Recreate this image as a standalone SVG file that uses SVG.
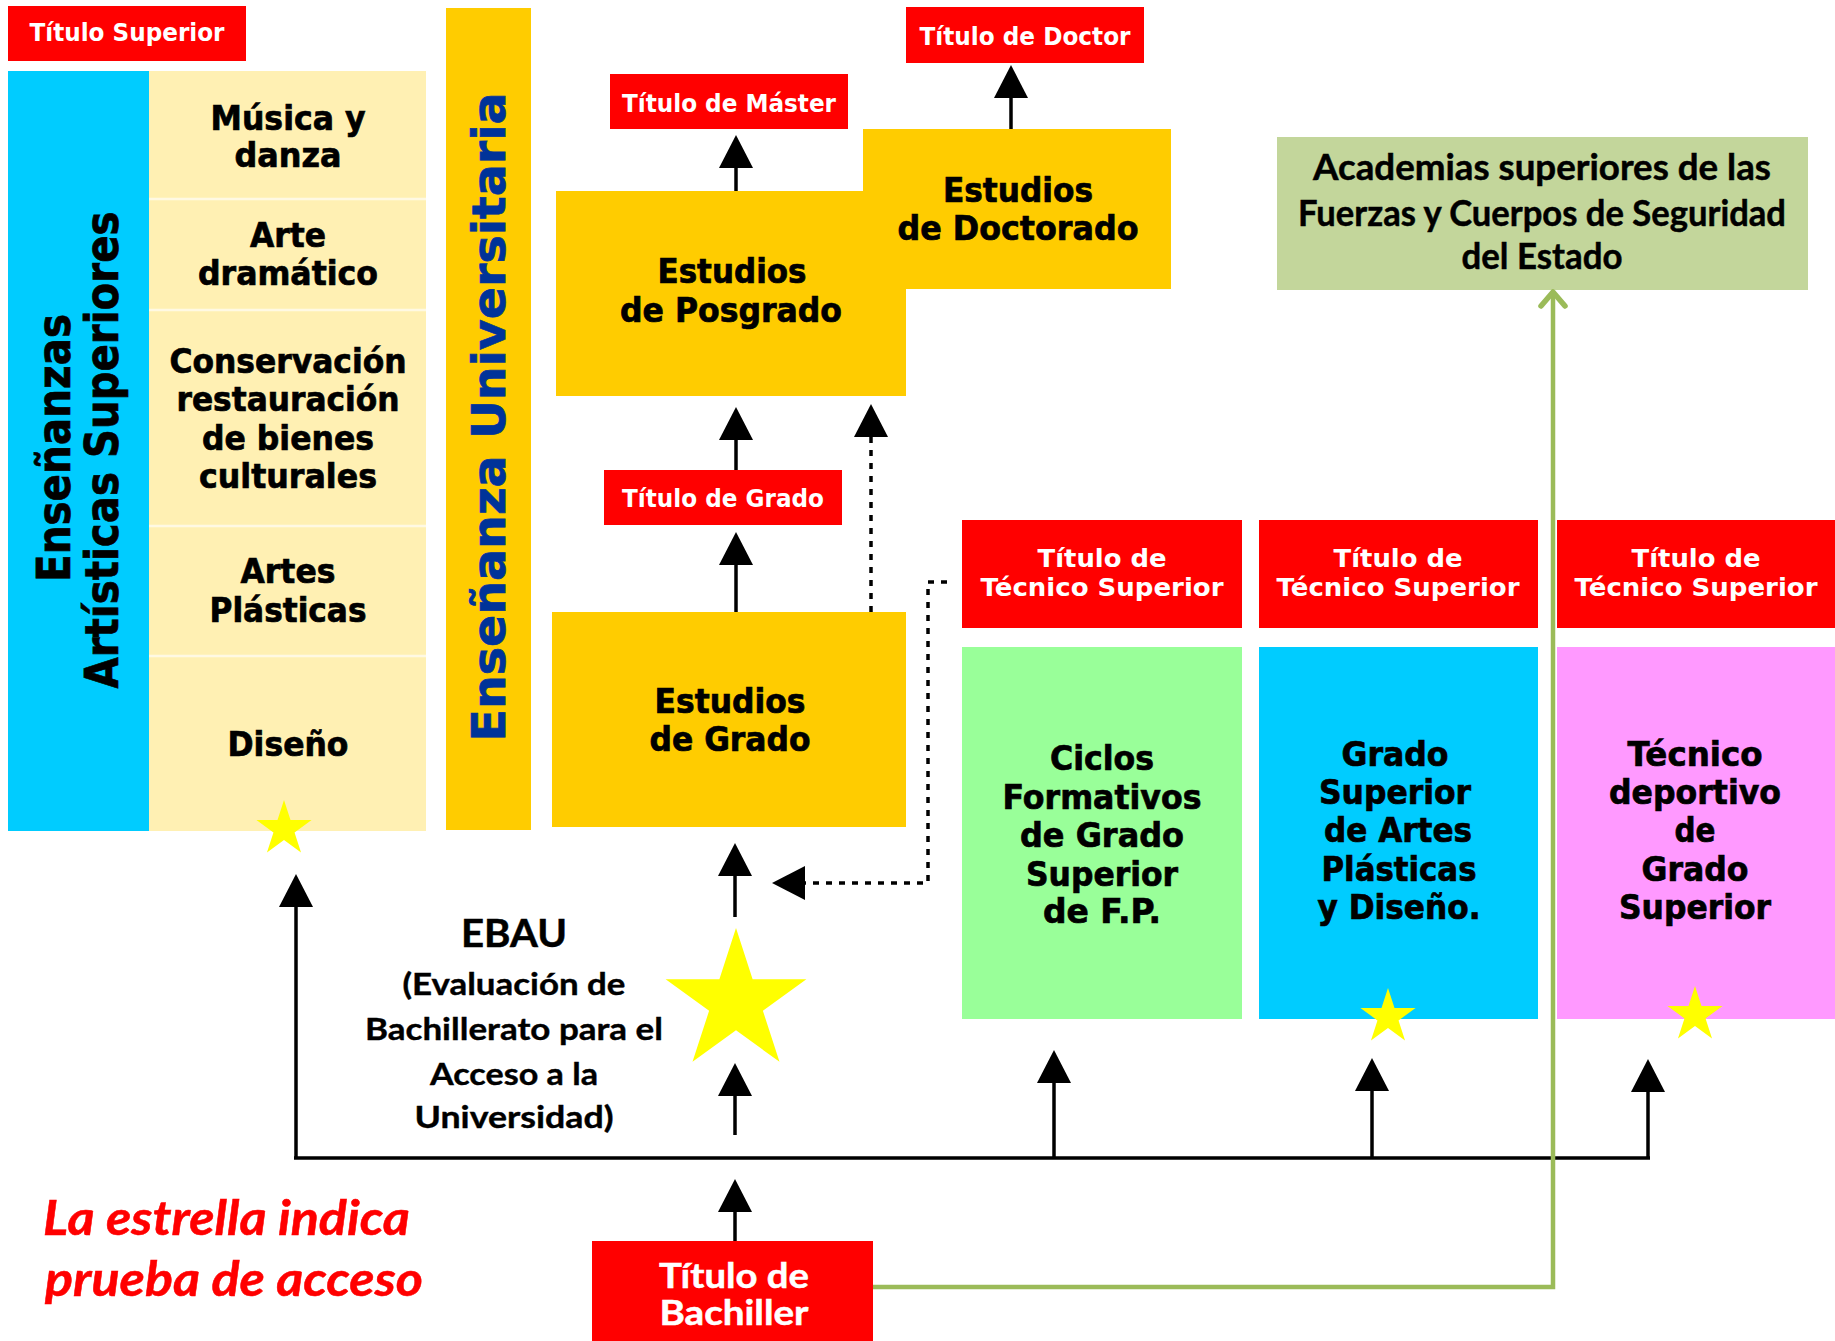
<svg xmlns="http://www.w3.org/2000/svg" xmlns:xlink="http://www.w3.org/1999/xlink" width="1835" height="1341" viewBox="0 0 1835 1341">
<style>
.vb{font-family:"DejaVu Sans",Verdana,sans-serif;font-weight:bold;}
.cal{font-family:Lato,"Open Sans",sans-serif;font-weight:bold;}
.mid{text-anchor:middle;}
.red{fill:#FF0000;}
.yel{fill:#FFCC00;}
.wt{fill:#FFFFFF;}
.bk{fill:#000000;}
.hv{stroke:#000;stroke-width:0.7;}
.ttl{font-size:25px;}
.cell{font-size:33px;}
.col{font-size:33px;}
.ln{stroke:#000;stroke-width:3.5;fill:none;}
.dot{stroke:#000;stroke-width:3.5;fill:none;stroke-dasharray:6 7;}
.gln{stroke:#9BBB59;stroke-width:4.5;fill:none;}
.star{fill:#FFFF00;}
</style>
<defs>
<marker id="ah" viewBox="0 -17 33 34" refX="1" refY="0" markerWidth="33" markerHeight="34" markerUnits="userSpaceOnUse" orient="auto"><path d="M0,-17 L33,0 L0,17 z" fill="#000"/></marker>
<marker id="gh" viewBox="-20 -16 24 32" refX="0" refY="0" markerWidth="24" markerHeight="32" markerUnits="userSpaceOnUse" orient="auto" overflow="visible"><path d="M-14,-12 L0,0 L-14,12" fill="none" stroke="#9BBB59" stroke-width="5.5" stroke-linecap="round" stroke-linejoin="round"/></marker>
<polygon id="star" points="0,-100 22.45,-30.9 95.11,-30.9 36.33,11.8 58.78,80.9 0,38.2 -58.78,80.9 -36.33,11.8 -95.11,-30.9 -22.45,-30.9"/>
</defs>
<rect width="1835" height="1341" fill="#FFFFFF"/>

<g id="titulo-superior">
<rect class="red" x="8" y="6" width="238" height="55"/>
<text class="vb ttl wt mid" x="127" y="41" textLength="195" lengthAdjust="spacingAndGlyphs">Título Superior</text>
</g>

<g id="ensenanzas-artisticas">
<rect x="8" y="71" width="141" height="760" fill="#00CCFF"/>
<text class="vb bk mid hv" font-size="47" transform="translate(70,448) rotate(-90)" textLength="268" lengthAdjust="spacingAndGlyphs">Enseñanzas</text>
<text class="vb bk mid hv" font-size="47" transform="translate(118,450) rotate(-90)" textLength="477" lengthAdjust="spacingAndGlyphs">Artísticas Superiores</text>
</g>

<g id="artes-celdas">
<rect x="149" y="71" width="277" height="760" fill="#FFF0B3"/>
<g stroke="#FFF9E3" stroke-width="2.5">
<line x1="149" y1="199" x2="426" y2="199"/>
<line x1="149" y1="310" x2="426" y2="310"/>
<line x1="149" y1="526" x2="426" y2="526"/>
<line x1="149" y1="656" x2="426" y2="656"/>
</g>
<g class="vb bk mid cell hv">
<text x="288" y="130" textLength="155" lengthAdjust="spacingAndGlyphs">Música y</text>
<text x="288" y="167" textLength="107" lengthAdjust="spacingAndGlyphs">danza</text>
<text x="288" y="247" textLength="76" lengthAdjust="spacingAndGlyphs">Arte</text>
<text x="288" y="285" textLength="180" lengthAdjust="spacingAndGlyphs">dramático</text>
<text x="288" y="373" textLength="237" lengthAdjust="spacingAndGlyphs">Conservación</text>
<text x="288" y="411" textLength="223" lengthAdjust="spacingAndGlyphs">restauración</text>
<text x="288" y="450" textLength="172" lengthAdjust="spacingAndGlyphs">de bienes</text>
<text x="288" y="488" textLength="178" lengthAdjust="spacingAndGlyphs">culturales</text>
<text x="288" y="583" textLength="95" lengthAdjust="spacingAndGlyphs">Artes</text>
<text x="288" y="622" textLength="157" lengthAdjust="spacingAndGlyphs">Plásticas</text>
<text x="288" y="756" textLength="121" lengthAdjust="spacingAndGlyphs">Diseño</text>
</g>
<use href="#star" class="star" transform="translate(284,829) scale(0.29)"/>
</g>

<g id="ensenanza-universitaria">
<rect class="yel" x="446" y="8" width="85" height="822"/>
<text class="vb mid" fill="#003399" stroke="#003399" stroke-width="0.7" font-size="47" transform="translate(505,417) rotate(-90)" textLength="649" lengthAdjust="spacingAndGlyphs">Enseñanza Universitaria</text>
</g>

<g id="estudios-posgrado">
<rect class="yel" x="556" y="191" width="350" height="205"/>
<text class="vb bk mid cell hv" x="732" y="283" textLength="149" lengthAdjust="spacingAndGlyphs">Estudios</text>
<text class="vb bk mid cell hv" x="731" y="322" textLength="222" lengthAdjust="spacingAndGlyphs">de Posgrado</text>
</g>

<g id="estudios-doctorado">
<rect class="yel" x="863" y="129" width="308" height="160"/>
<text class="vb bk mid cell hv" x="1018" y="202" textLength="150" lengthAdjust="spacingAndGlyphs">Estudios</text>
<text class="vb bk mid cell hv" x="1018" y="240" textLength="241" lengthAdjust="spacingAndGlyphs">de Doctorado</text>
</g>

<g id="titulo-master">
<rect class="red" x="610" y="74" width="238" height="55"/>
<text class="vb ttl wt mid" x="729" y="112" textLength="214" lengthAdjust="spacingAndGlyphs">Título de Máster</text>
</g>

<g id="titulo-doctor">
<rect class="red" x="906" y="7" width="238" height="56"/>
<text class="vb ttl wt mid" x="1025" y="45" textLength="211" lengthAdjust="spacingAndGlyphs">Título de Doctor</text>
</g>

<g id="titulo-grado">
<rect class="red" x="604" y="470" width="238" height="55"/>
<text class="vb ttl wt mid" x="723" y="507" textLength="202" lengthAdjust="spacingAndGlyphs">Título de Grado</text>
</g>

<g id="estudios-grado">
<rect class="yel" x="552" y="612" width="354" height="215"/>
<text class="vb bk mid cell hv" x="730" y="713" textLength="151" lengthAdjust="spacingAndGlyphs">Estudios</text>
<text class="vb bk mid cell hv" x="730" y="751" textLength="161" lengthAdjust="spacingAndGlyphs">de Grado</text>
</g>

<g id="titulo-tecnico-1">
<rect class="red" x="962" y="520" width="280" height="108"/>
<text class="vb ttl wt mid" x="1102" y="567" textLength="129" lengthAdjust="spacingAndGlyphs">Título de</text>
<text class="vb ttl wt mid" x="1102" y="596" textLength="243" lengthAdjust="spacingAndGlyphs">Técnico Superior</text>
</g>

<g id="titulo-tecnico-2">
<rect class="red" x="1259" y="520" width="279" height="108"/>
<text class="vb ttl wt mid" x="1398" y="567" textLength="129" lengthAdjust="spacingAndGlyphs">Título de</text>
<text class="vb ttl wt mid" x="1398" y="596" textLength="243" lengthAdjust="spacingAndGlyphs">Técnico Superior</text>
</g>

<g id="titulo-tecnico-3">
<rect class="red" x="1557" y="520" width="278" height="108"/>
<text class="vb ttl wt mid" x="1696" y="567" textLength="129" lengthAdjust="spacingAndGlyphs">Título de</text>
<text class="vb ttl wt mid" x="1696" y="596" textLength="243" lengthAdjust="spacingAndGlyphs">Técnico Superior</text>
</g>

<g id="ciclos-formativos">
<rect x="962" y="647" width="280" height="372" fill="#99FF99"/>
<g class="vb bk mid col hv">
<text x="1102" y="770" textLength="104" lengthAdjust="spacingAndGlyphs">Ciclos</text>
<text x="1102" y="809" textLength="199" lengthAdjust="spacingAndGlyphs">Formativos</text>
<text x="1102" y="847" textLength="164" lengthAdjust="spacingAndGlyphs">de Grado</text>
<text x="1102" y="886" textLength="152" lengthAdjust="spacingAndGlyphs">Superior</text>
<text x="1102" y="923" textLength="118" lengthAdjust="spacingAndGlyphs">de F.P.</text>
</g>
</g>

<g id="grado-superior-artes">
<rect x="1259" y="647" width="279" height="372" fill="#00CCFF"/>
<g class="vb bk mid col hv">
<text x="1395" y="766" textLength="107" lengthAdjust="spacingAndGlyphs">Grado</text>
<text x="1395" y="804" textLength="152" lengthAdjust="spacingAndGlyphs">Superior</text>
<text x="1398" y="842" textLength="148" lengthAdjust="spacingAndGlyphs">de Artes</text>
<text x="1399" y="881" textLength="155" lengthAdjust="spacingAndGlyphs">Plásticas</text>
<text x="1399" y="919" textLength="163" lengthAdjust="spacingAndGlyphs">y Diseño.</text>
</g>
<use href="#star" class="star" transform="translate(1388,1017) scale(0.29)"/>
</g>

<g id="tecnico-deportivo">
<rect x="1557" y="647" width="278" height="372" fill="#FF99FF"/>
<g class="vb bk mid col hv">
<text x="1695" y="766" textLength="135" lengthAdjust="spacingAndGlyphs">Técnico</text>
<text x="1695" y="804" textLength="172" lengthAdjust="spacingAndGlyphs">deportivo</text>
<text x="1695" y="842" textLength="41" lengthAdjust="spacingAndGlyphs">de</text>
<text x="1695" y="881" textLength="107" lengthAdjust="spacingAndGlyphs">Grado</text>
<text x="1695" y="919" textLength="152" lengthAdjust="spacingAndGlyphs">Superior</text>
</g>
<use href="#star" class="star" transform="translate(1695,1015) scale(0.29)"/>
</g>

<g id="academias">
<rect x="1277" y="137" width="531" height="153" fill="#C3D69B"/>
<g class="cal bk mid" font-size="37" stroke="#000" stroke-width="0.5">
<text x="1542" y="180" textLength="458" lengthAdjust="spacingAndGlyphs">Academias superiores de las</text>
<text x="1542" y="226" textLength="488" lengthAdjust="spacingAndGlyphs">Fuerzas y Cuerpos de Seguridad</text>
<text x="1542" y="269" textLength="161" lengthAdjust="spacingAndGlyphs">del Estado</text>
</g>
</g>

<g id="ebau">
<text class="cal bk mid" x="514" y="947" font-size="39" stroke="#000" stroke-width="0.5" textLength="106" lengthAdjust="spacingAndGlyphs">EBAU</text>
<g class="cal bk mid" font-size="31" stroke="#000" stroke-width="0.4">
<text x="514" y="995" textLength="223" lengthAdjust="spacingAndGlyphs">(Evaluación de</text>
<text x="514" y="1040" textLength="298" lengthAdjust="spacingAndGlyphs">Bachillerato para el</text>
<text x="514" y="1085" textLength="168" lengthAdjust="spacingAndGlyphs">Acceso a la</text>
<text x="514" y="1128" textLength="199" lengthAdjust="spacingAndGlyphs">Universidad)</text>
</g>
<use href="#star" class="star" transform="translate(736,1002) scale(0.74)"/>
</g>

<g id="titulo-bachiller">
<rect class="red" x="592" y="1241" width="281" height="100"/>
<text class="cal wt mid" x="734" y="1288" font-size="34" stroke="#FFF" stroke-width="0.5" textLength="150" lengthAdjust="spacingAndGlyphs">Título de</text>
<text class="cal wt mid" x="734" y="1325" font-size="34" stroke="#FFF" stroke-width="0.5" textLength="149" lengthAdjust="spacingAndGlyphs">Bachiller</text>
</g>

<g id="nota">
<text class="cal" fill="#FF0000" stroke="#FF0000" stroke-width="0.5" font-style="italic" font-size="48" x="43" y="1235" textLength="367" lengthAdjust="spacingAndGlyphs">La estrella indica</text>
<text class="cal" fill="#FF0000" stroke="#FF0000" stroke-width="0.5" font-style="italic" font-size="48" x="45" y="1296" textLength="378" lengthAdjust="spacingAndGlyphs">prueba de acceso</text>
</g>

<g id="connectors">
<line class="ln" x1="736" y1="191" x2="736" y2="167" marker-end="url(#ah)"/>
<line class="ln" x1="1011" y1="129" x2="1011" y2="97" marker-end="url(#ah)"/>
<line class="ln" x1="736" y1="470" x2="736" y2="439" marker-end="url(#ah)"/>
<line class="dot" x1="871" y1="612" x2="871" y2="436" marker-end="url(#ah)"/>
<line class="ln" x1="736" y1="612" x2="736" y2="564" marker-end="url(#ah)"/>
<line class="ln" x1="735" y1="917" x2="735" y2="875" marker-end="url(#ah)"/>
<line class="ln" x1="735" y1="1135" x2="735" y2="1095" marker-end="url(#ah)"/>
<line class="ln" x1="735" y1="1241" x2="735" y2="1211" marker-end="url(#ah)"/>
<path class="dot" d="M947,582 H928 V883 H804" marker-end="url(#ah)"/>
<line class="ln" x1="294" y1="1158" x2="1650" y2="1158"/>
<line class="ln" x1="296" y1="1158" x2="296" y2="906" marker-end="url(#ah)"/>
<line class="ln" x1="1054" y1="1158" x2="1054" y2="1082" marker-end="url(#ah)"/>
<line class="ln" x1="1372" y1="1158" x2="1372" y2="1090" marker-end="url(#ah)"/>
<line class="ln" x1="1648" y1="1158" x2="1648" y2="1091" marker-end="url(#ah)"/>
<path class="gln" d="M873,1287 H1553 V292" marker-end="url(#gh)"/>
</g>
</svg>
